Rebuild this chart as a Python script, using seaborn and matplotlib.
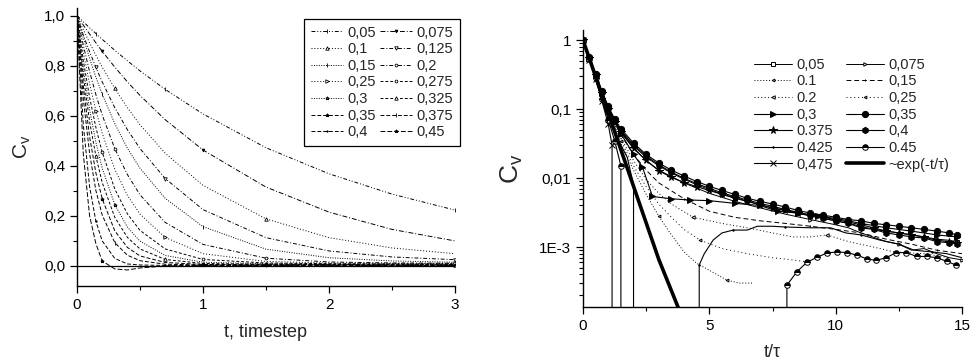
import matplotlib
matplotlib.use("Agg")
import matplotlib.pyplot as plt
import seaborn as sns
from matplotlib.ticker import FixedLocator, FixedFormatter, LogLocator, NullFormatter, MultipleLocator

# ---------------- data: left panel (C_v vs t, timestep) ----------------
t_left = [0, 0.05, 0.1, 0.15, 0.2, 0.3, 0.4, 0.5, 0.7, 1.0, 1.5, 2.0, 2.5, 3.0]
left_labels = ["0,05", "0,075", "0,1", "0,125", "0,15", "0,2", "0,25", "0,275",
               "0,3", "0,325", "0,35", "0,375", "0,4", "0,45"]
cv_l_005 = [1.0, 0.975, 0.951, 0.928, 0.905, 0.861, 0.819, 0.779, 0.705, 0.607, 0.472, 0.368, 0.287, 0.223]
cv_l_0075 = [1.0, 0.962, 0.926, 0.891, 0.857, 0.794, 0.735, 0.681, 0.584, 0.463, 0.315, 0.215, 0.146, 0.100]
cv_l_01 = [1.0, 0.944, 0.891, 0.841, 0.794, 0.709, 0.632, 0.564, 0.450, 0.322, 0.188, 0.113, 0.072, 0.049]
cv_l_0125 = [1.0, 0.922, 0.855, 0.793, 0.735, 0.632, 0.544, 0.469, 0.349, 0.225, 0.113, 0.060, 0.036, 0.025]
cv_l_015 = [1.0, 0.911, 0.829, 0.754, 0.686, 0.568, 0.470, 0.390, 0.270, 0.157, 0.067, 0.033, 0.020, 0.015]
cv_l_02 = [1.0, 0.881, 0.776, 0.684, 0.603, 0.468, 0.365, 0.284, 0.174, 0.086, 0.031, 0.016, 0.012, 0.011]
cv_l_025 = [1.0, 0.853, 0.727, 0.620, 0.530, 0.386, 0.282, 0.207, 0.114, 0.049, 0.018, 0.012, 0.010, 0.010]
cv_l_0275 = [1.0, 0.820, 0.673, 0.553, 0.454, 0.307, 0.208, 0.142, 0.068, 0.026, 0.012, 0.009, 0.008, 0.008]
cv_l_03 = [1.0, 0.789, 0.624, 0.494, 0.390, 0.245, 0.155, 0.099, 0.042, 0.015, 0.009, 0.007, 0.007, 0.006]
cv_l_0325 = [1.0, 0.759, 0.577, 0.438, 0.333, 0.194, 0.114, 0.068, 0.026, 0.010, 0.007, 0.006, 0.005, 0.005]
cv_l_035 = [1.0, 0.718, 0.516, 0.371, 0.268, 0.140, 0.074, 0.040, 0.014, 0.006, 0.005, 0.005, 0.004, 0.004]
cv_l_0375 = [1.0, 0.668, 0.449, 0.301, 0.203, 0.093, 0.043, 0.021, 0.007, 0.004, 0.004, 0.004, 0.003, 0.003]
cv_l_04 = [1.0, 0.563, 0.317, 0.178, 0.100, 0.030, 0.008, 0.004, 0.002, 0.003, 0.003, 0.003, 0.003, 0.003]
cv_l_045 = [1.0, 0.447, 0.200, 0.089, 0.020, -0.012, -0.016, -0.008, 0.000, 0.002, 0.002, 0.002, 0.002, 0.002]
left_series = [cv_l_005, cv_l_0075, cv_l_01, cv_l_0125, cv_l_015, cv_l_02, cv_l_025,
               cv_l_0275, cv_l_03, cv_l_0325, cv_l_035, cv_l_0375, cv_l_04, cv_l_045]
left_yticks = [0.0, 0.2, 0.4, 0.6, 0.8, 1.0]
left_yticklabels = ["0,0", "0,2", "0,4", "0,6", "0,8", "1,0"]
left_xticks = [0, 1, 2, 3]

# ---------------- data: right panel (C_v vs t/tau, log) ----------------
t_bundle = [0, 0.25, 0.5, 0.75, 1.0, 1.25, 1.5, 2.0, 2.5, 3.0, 3.5, 4.0, 4.5, 5.0, 5.5, 6.0, 6.5,
            7.0, 7.5, 8.0, 8.5, 9.0, 9.5, 10.0, 10.5, 11.0, 11.5, 12.0, 12.5, 13.0, 13.5, 14.0, 14.5, 14.8]
t_r_005 = t_bundle
cv_r_005 = [1.0, 0.55, 0.31, 0.175, 0.105, 0.068, 0.048, 0.029, 0.02, 0.015, 0.0118, 0.0096, 0.008, 0.0068,
            0.0059, 0.0052, 0.0046, 0.0041, 0.0037, 0.0034, 0.0031, 0.0028, 0.0026, 0.0024, 0.0022, 0.002,
            0.0018, 0.0017, 0.0016, 0.0015, 0.0014, 0.0013, 0.00125, 0.0012]
t_r_0075 = [0, 0.5, 1, 1.5, 2, 2.5, 3, 4, 5, 6, 7, 8, 9, 10, 10.5, 11, 12, 12.5, 13, 13.5, 14, 14.5, 15]
cv_r_0075 = [1.0, 0.31, 0.10, 0.046, 0.027, 0.018, 0.013, 0.0085, 0.006, 0.0046, 0.0037, 0.003, 0.0025,
             0.0021, 0.0019, 0.0016, 0.0012, 0.0011, 0.0009, 0.00095, 0.0008, 0.0007, 0.00065]
t_r_01 = [0, 0.5, 1, 1.5, 2, 2.5, 3, 3.5, 4, 4.5, 5, 5.7, 6.2, 6.7]
cv_r_01 = [1.0, 0.29, 0.088, 0.032, 0.013, 0.0058, 0.0028, 0.0015, 0.00085, 0.00058, 0.00046, 0.00033,
           0.0003, 0.0003]
t_r_015 = [0, 0.5, 1, 1.5, 2, 2.5, 3, 4, 5, 6, 7, 8, 9, 10, 11, 12, 13, 14, 15]
cv_r_015 = [1.0, 0.30, 0.095, 0.042, 0.022, 0.013, 0.0085, 0.005, 0.0033, 0.0027, 0.0024, 0.0022, 0.0020,
            0.0018, 0.0016, 0.0013, 0.0011, 0.0009, 0.0008]
t_r_02 = [0, 0.5, 1, 1.5, 2, 2.5, 3, 3.5, 4.35, 5.5, 6.5, 7.5, 8.3, 9.0, 9.65, 10.5, 11.5, 12.3, 13.5, 14.5]
cv_r_02 = [1.0, 0.30, 0.092, 0.038, 0.018, 0.0095, 0.006, 0.0042, 0.0027, 0.0022, 0.0019, 0.0016, 0.0014,
           0.0014, 0.0015, 0.0012, 0.001, 0.00085, 0.0008, 0.0007]
t_r_025 = [0, 0.5, 1, 1.5, 2, 2.5, 3, 3.5, 4, 4.63, 5.5, 6.5, 7.5, 8.3, 9.0]
cv_r_025 = [1.0, 0.30, 0.09, 0.035, 0.015, 0.0075, 0.0042, 0.0027, 0.0018, 0.00126, 0.00095, 0.0008,
            0.0007, 0.00065, 0.0006]
t_r_03 = [0, 0.25, 0.5, 0.75, 1.0, 1.25, 1.5, 2.0, 2.35, 2.75, 3.5, 4.25, 5.0, 6.0, 7.0, 7.7, 8.5, 9.3,
          10.0, 11.0, 12.0, 13.0, 14.0, 14.8]
cv_r_03 = [1.0, 0.55, 0.31, 0.17, 0.10, 0.064, 0.044, 0.022, 0.0145, 0.0054, 0.0050, 0.0048, 0.0047,
           0.0043, 0.0040, 0.0033, 0.0031, 0.0028, 0.0026, 0.0022, 0.0019, 0.0017, 0.0015, 0.0014]
t_r_035 = t_bundle
cv_r_035 = [1.0, 0.56, 0.32, 0.18, 0.11, 0.072, 0.052, 0.032, 0.022, 0.0165, 0.013, 0.0107, 0.0089, 0.0076,
            0.0066, 0.0058, 0.0051, 0.0046, 0.0042, 0.0038, 0.0034, 0.0031, 0.0029, 0.0027, 0.0025, 0.0024,
            0.0022, 0.0021, 0.0020, 0.0019, 0.0018, 0.0017, 0.0016, 0.0015]
t_r_0375 = t_bundle
cv_r_0375 = [1.0, 0.55, 0.31, 0.17, 0.10, 0.066, 0.046, 0.027, 0.018, 0.0128, 0.0102, 0.0086, 0.0075, 0.0066,
             0.0058, 0.0051, 0.0046, 0.0041, 0.0037, 0.0034, 0.0031, 0.0029, 0.0027, 0.0025, 0.0023, 0.0021,
             0.0019, 0.0017, 0.0016, 0.0015, 0.0014, 0.00125, 0.0012, 0.00115]
t_r_04 = t_bundle
cv_r_04 = [1.0, 0.55, 0.31, 0.175, 0.105, 0.069, 0.049, 0.030, 0.021, 0.0155, 0.0122, 0.0099, 0.0083, 0.0071,
           0.0061, 0.0054, 0.0048, 0.0043, 0.0039, 0.0035, 0.0032, 0.0029, 0.0026, 0.0024, 0.0022, 0.0019,
           0.0018, 0.0016, 0.0015, 0.0014, 0.00135, 0.0012, 0.00115, 0.0011]
t_r_0425 = [0, 0.25, 0.5, 0.75, 1.0, 1.25, 1.5, 1.75, 2.0, 2.08, 3.0, 4.0, 4.5, 4.6, 4.8, 5.15, 5.5, 5.94,
            6.5, 6.9, 7.5, 8.0, 9.0, 9.8, 10.4, 11.0, 11.75, 12.5, 13.1, 13.8, 14.4, 15.0]
cv_r_0425 = [1.0, 0.54, 0.29, 0.15, 0.08, 0.045, 0.03, 0.02, 0.008, -0.001, -0.002, -0.001, -0.0002,
             0.00055, 0.0008, 0.00126, 0.0016, 0.00176, 0.00176, 0.002, 0.002, 0.00195, 0.0019, 0.0019,
             0.0016, 0.0015, 0.00126, 0.0011, 0.0009, 0.00085, 0.0008, 0.0007]
t_r_045 = [0, 0.25, 0.5, 0.75, 1.0, 1.25, 1.5, 1.65, 3.0, 5.0, 7.0, 7.85, 8.07, 8.47, 8.86, 9.26, 9.66,
           10.06, 10.45, 10.85, 11.25, 11.6, 12.0, 12.4, 12.8, 13.2, 13.6, 14.0, 14.4, 14.75]
cv_r_045 = [1.0, 0.53, 0.28, 0.14, 0.07, 0.035, 0.015, -0.001, -0.002, -0.001, -0.0005, -0.00001, 0.00028,
            0.00044, 0.0006, 0.00071, 0.00082, 0.00085, 0.00083, 0.00076, 0.00067, 0.00064, 0.0007,
            0.00083, 0.00083, 0.00073, 0.00073, 0.0007, 0.00062, 0.00055]
t_r_0475 = [0, 0.25, 0.5, 0.75, 1.0, 1.15, 1.27, 3.0, 15.0]
cv_r_0475 = [1.0, 0.52, 0.27, 0.13, 0.06, 0.03, -0.001, -0.002, -0.001]
t_exp = [0, 1, 2, 3, 3.8]
cv_exp = [1.0, 0.087, 0.0076, 0.00066, 0.000124]
right_labels = ["0,05", "0,075", "0.1", "0,15", "0.2", "0,25", "0,3", "0,35", "0.375", "0,4",
                "0.425", "0.45", "0,475", "~exp(-t/\u03c4)"]
right_yticks = [1, 0.1, 0.01, 0.001]
right_yticklabels = ["1", "0,1", "0,01", "1E-3"]
right_xticks = [0, 5, 10, 15]

# ---------------- styling ----------------
sns.set_theme(style="ticks")
plt.rcParams["font.family"] = ["Liberation Sans", "DejaVu Sans"]
plt.rcParams["mathtext.fontset"] = "custom"
plt.rcParams["mathtext.rm"] = "Liberation Sans"

fig = plt.figure(figsize=(9.75, 3.64), dpi=100)
ax1 = fig.add_axes([77 / 975, 78 / 364, 378 / 975, 278 / 364])
ax2 = fig.add_axes([583 / 975, 57 / 364, 379 / 975, 277 / 364])

left_styles = [
    dict(linestyle=(0, (4, 2, 1, 2, 1, 2)), marker="|", markersize=3),
    dict(linestyle=(0, (5, 2, 1, 2)), marker="v", markersize=2),
    dict(linestyle=(0, (1, 2)), marker="^", markersize=2.5, markerfacecolor="white"),
    dict(linestyle=(0, (4, 2, 1, 2)), marker="v", markersize=2.5, markerfacecolor="white"),
    dict(linestyle=(0, (1, 1.5)), marker="|", markersize=2.5),
    dict(linestyle=(0, (4, 2, 1, 2)), marker="o", markersize=2, markerfacecolor="white"),
    dict(linestyle=(0, (1, 2)), marker=">", markersize=2.5, markerfacecolor="white"),
    dict(linestyle=(0, (3, 2)), marker="o", markersize=2, markerfacecolor="white"),
    dict(linestyle=(0, (1, 1.5)), marker="*", markersize=2.5, markerfacecolor="white"),
    dict(linestyle=(0, (3, 2)), marker="^", markersize=2.5, markerfacecolor="white"),
    dict(linestyle=(0, (4, 2)), marker="*", markersize=2.5),
    dict(linestyle=(0, (4, 2)), marker="|", markersize=2.5),
    dict(linestyle=(0, (4, 2)), marker=".", markersize=2),
    dict(linestyle=(0, (5, 2)), marker="*", markersize=2.5),
]

for i, (vals, lab, st) in enumerate(zip(left_series, left_labels, left_styles)):
    kw = dict(st)
    kw.setdefault("markerfacecolor", "black")
    sns.lineplot(x=t_left, y=vals, ax=ax1, color="black", linewidth=0.7, markeredgecolor="black",
                 markeredgewidth=0.6, markevery=(3 + i % 3, 5), label=lab, estimator=None, sort=False, **kw)

ax1.axhline(0, color="black", linewidth=0.9)
ax1.set_xlim(0, 3)
ax1.set_ylim(-0.08, 1.03)
ax1.yaxis.set_major_locator(FixedLocator(left_yticks))
ax1.yaxis.set_major_formatter(FixedFormatter(left_yticklabels))
ax1.yaxis.set_minor_locator(MultipleLocator(0.1))
ax1.xaxis.set_major_locator(FixedLocator(left_xticks))
ax1.xaxis.set_minor_locator(MultipleLocator(0.5))
ax1.set_xlabel("t, timestep", fontsize=13, labelpad=9)
ax1.set_ylabel(r"$\mathregular{C_v}$", fontsize=15, labelpad=8)

h, l = ax1.get_legend_handles_labels()
order = list(range(0, len(h), 2)) + list(range(1, len(h), 2))
leg1 = ax1.legend([h[i] for i in order], [l[i] for i in order], ncol=2, fontsize=10.5,
                  loc="upper left", bbox_to_anchor=(304 / 975, 1 - 19 / 364),
                  bbox_transform=fig.transFigure, borderaxespad=0, frameon=True, fancybox=False,
                  edgecolor="black", framealpha=1, handlelength=2.2, handletextpad=0.3,
                  columnspacing=0.3, labelspacing=0.18, borderpad=0.45)
leg1.get_frame().set_linewidth(0.9)

# right panel
right_defs = [
    (t_r_005, cv_r_005, dict(linestyle="-", linewidth=0.7, marker="s", markersize=2.5, markerfacecolor="white", markevery=(3, 6))),
    (t_r_0075, cv_r_0075, dict(linestyle="-", linewidth=0.7, marker=">", markersize=2.5, markerfacecolor="white", markevery=(2, 5))),
    (t_r_01, cv_r_01, dict(linestyle=(0, (1, 2)), linewidth=0.7, marker="<", markersize=2, markerfacecolor="white", markevery=(1, 5))),
    (t_r_015, cv_r_015, dict(linestyle=(0, (5, 3)), linewidth=0.7, marker="|", markersize=2, markevery=(2, 5))),
    (t_r_02, cv_r_02, dict(linestyle=(0, (1, 2.5)), linewidth=0.7, marker="<", markersize=2.5, markerfacecolor="white", markevery=(2, 6))),
    (t_r_025, cv_r_025, dict(linestyle=(0, (1, 3)), linewidth=0.7, marker="<", markersize=2, markerfacecolor="white", markevery=(3, 6))),
    (t_r_03, cv_r_03, dict(linestyle="-", linewidth=0.8, marker=">", markersize=5, markerfacecolor="black")),
    (t_r_035, cv_r_035, dict(linestyle="-", linewidth=0.8, marker="o", markersize=4.5, markerfacecolor="black")),
    (t_r_0375, cv_r_0375, dict(linestyle="-", linewidth=0.8, marker="*", markersize=5.5, markerfacecolor="black")),
    (t_r_04, cv_r_04, dict(linestyle="-", linewidth=0.8, marker="h", markersize=4.5, markerfacecolor="black")),
    (t_r_0425, cv_r_0425, dict(linestyle="-", linewidth=0.8, marker=".", markersize=2, markerfacecolor="black", markevery=(1, 4))),
    (t_r_045, cv_r_045, dict(linestyle="-", linewidth=0.8, marker="o", markersize=4, markerfacecolor="black",
                             fillstyle="top", markerfacecoloralt="white")),
    (t_r_0475, cv_r_0475, dict(linestyle="-", linewidth=0.8, marker="x", markersize=5)),
    (t_exp, cv_exp, dict(linestyle="-", linewidth=2.6)),
]
for (tx, vy, st), lab in zip(right_defs, right_labels):
    kw = dict(st)
    if "marker" in kw:
        kw.setdefault("markerfacecolor", "black")
        kw["markeredgecolor"] = "black"
        kw["markeredgewidth"] = 0.7
    sns.lineplot(x=tx, y=vy, ax=ax2, color="black", label=lab, estimator=None, sort=False, **kw)

ax2.set_yscale("log", nonpositive="clip")
ax2.set_xlim(0, 15)
ax2.set_ylim(1.35e-4, 1.4)
ax2.yaxis.set_major_locator(FixedLocator(right_yticks))
ax2.yaxis.set_major_formatter(FixedFormatter(right_yticklabels))
ax2.yaxis.set_minor_locator(LogLocator(base=10, subs=range(2, 10)))
ax2.yaxis.set_minor_formatter(NullFormatter())
ax2.xaxis.set_major_locator(FixedLocator(right_xticks))
ax2.xaxis.set_minor_locator(MultipleLocator(2.5))
ax2.set_xlabel("t/\u03c4", fontsize=13, labelpad=8)
ax2.set_ylabel(r"$\mathregular{C_v}$", fontsize=19, labelpad=10)

h2, l2 = ax2.get_legend_handles_labels()
order2 = list(range(0, len(h2), 2)) + list(range(1, len(h2), 2))
ax2.legend([h2[i] for i in order2], [l2[i] for i in order2], ncol=2, fontsize=10.5,
           loc="upper left", bbox_to_anchor=(748 / 975, 1 - 52 / 364),
           bbox_transform=fig.transFigure, borderaxespad=0, frameon=False,
           handlelength=2.6, handletextpad=0.3, columnspacing=0.9, labelspacing=0.18)

for ax in (ax1, ax2):
    sns.despine(ax=ax)
    for s in ("left", "bottom"):
        ax.spines[s].set_color("black")
        ax.spines[s].set_linewidth(1.0)
    ax.tick_params(which="major", direction="out", length=5, width=0.9, color="black",
                   labelsize=11, labelcolor="black")
    ax.tick_params(which="minor", direction="out", length=3, width=0.8, color="black")
    ax.grid(False)

fig.savefig("out.png", dpi=100)
